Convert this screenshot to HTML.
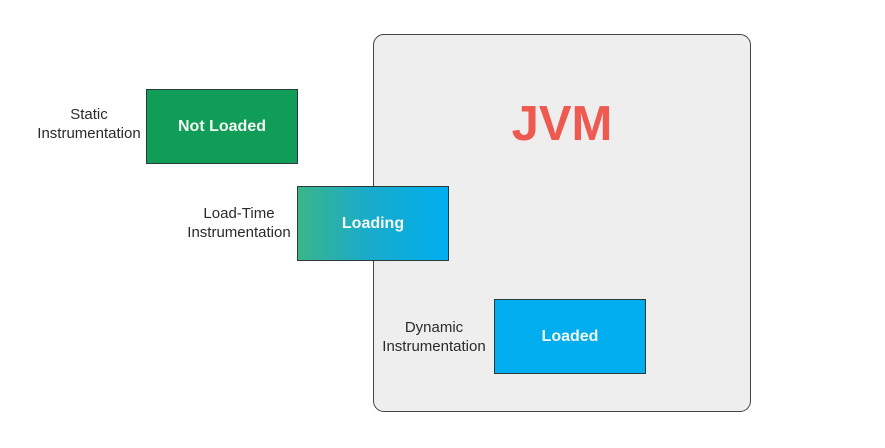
<!DOCTYPE html>
<html><head><meta charset="utf-8"><style>
html,body{margin:0;padding:0;background:#fff;}
body{width:885px;height:448px;position:relative;overflow:hidden;font-family:"Liberation Sans",Arial,sans-serif;}
.jvm{position:absolute;left:373px;top:34px;width:376px;height:376px;background:#eeeeee;border:1.5px solid #444;border-radius:11px;}
.jt{position:absolute;left:474px;width:176px;top:96px;text-align:center;font-weight:bold;font-size:49px;color:#ef5a50;line-height:56px;}
.box{position:absolute;width:150px;height:73px;border:1px solid #2d3a3a;color:#f4f8f4;font-weight:bold;font-size:16px;display:flex;align-items:center;justify-content:center;}
.lbl{position:absolute;text-align:center;color:#2a2a2a;font-size:15px;line-height:19px;width:130px;}
</style></head><body>
<div class="jvm"></div>
<div class="jt">JVM</div>
<div class="lbl" style="left:24px;top:105px;">Static<br>Instrumentation</div>
<div class="box" style="left:146px;top:89px;background:#0f9d58;">Not Loaded</div>
<div class="lbl" style="left:174px;top:204px;">Load-Time<br>Instrumentation</div>
<div class="box" style="left:297px;top:186px;background:linear-gradient(to right,#3bb58a,#1aabc8 45%,#00aeef);">Loading</div>
<div class="lbl" style="left:369px;top:318px;">Dynamic<br>Instrumentation</div>
<div class="box" style="left:494px;top:299px;background:#00aeef;">Loaded</div>
</body></html>
